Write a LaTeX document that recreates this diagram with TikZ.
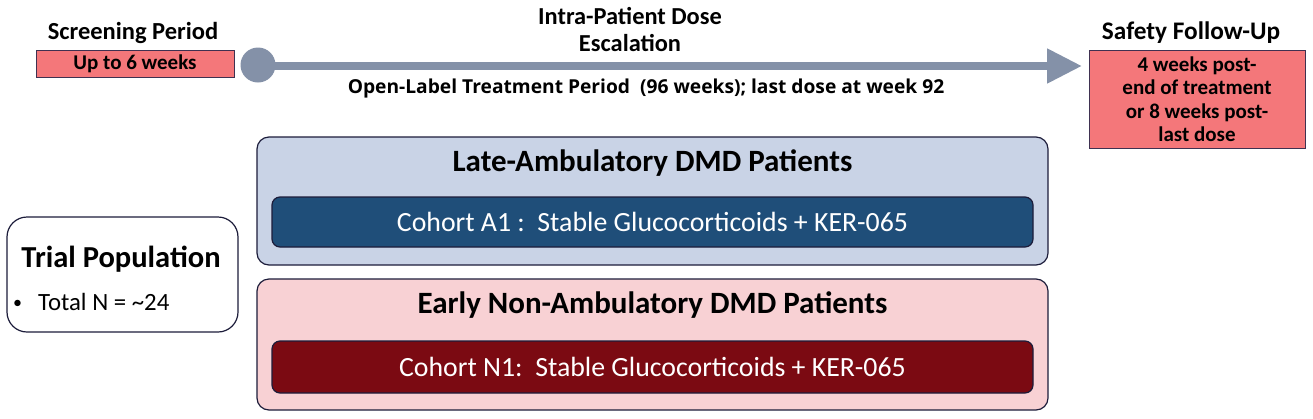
\documentclass[tikz,border=0pt]{standalone}
\usepackage{fontspec}
\setmainfont{Carlito}
\newfontfamily\segoe{Open Sans}
\usetikzlibrary{arrows.meta}
\definecolor{salmon}{HTML}{F4777A}
\definecolor{edgepurple}{HTML}{3F3151}
\definecolor{arrowgray}{HTML}{8491A8}
\definecolor{lightblue}{HTML}{C9D3E6}
\definecolor{darkblue}{HTML}{1F4E79}
\definecolor{lightpink}{HTML}{F8D1D4}
\definecolor{darkred}{HTML}{7B0A12}
\definecolor{navyedge}{HTML}{1C1C3A}
\tikzset{
  redbox/.style={draw=edgepurple, line width=0.8pt, fill=salmon, inner sep=0pt, font=\bfseries\fontsize{21}{24}\selectfont, align=center},
  heading/.style={font=\bfseries\fontsize{24.4}{27}\selectfont, align=center, inner sep=0pt},
  group/.style={draw=navyedge, line width=1.2pt, rounded corners=12pt, inner sep=0pt},
  cohort/.style={draw=navyedge, line width=1.2pt, rounded corners=8pt, inner sep=0pt, text=white, font=\fontsize{27.8}{31}\selectfont},
  grouptitle/.style={font=\bfseries\fontsize{31}{35}\selectfont, inner sep=0pt}
}
\begin{document}
\begin{tikzpicture}[x=1pt,y=-1pt]
\useasboundingbox (0,0) rectangle (1313,418);
% screening
\node[heading, font=\bfseries\fontsize{24.5}{28}\selectfont] (scrt) at (133,33) {Screening Period};
\node[redbox, minimum width=198pt, minimum height=27pt] (scr) at (135,63.5) {Up to 6 weeks};
% timeline
\node[circle, fill=arrowgray, minimum size=35pt, inner sep=0pt] (circ) at (258,65) {};
\coordinate (tip) at (1082,66);
\draw[arrowgray, line width=8pt, -{Triangle[length=35pt,width=33pt]}] (circ.center |- tip) -- (tip);
\node[heading] (intra) at (630,30) {Intra-Patient Dose\\Escalation};
\node[inner sep=0pt, font=\segoe\bfseries\fontsize{19.2}{22}\selectfont] (olt) at (646,89) {Open-Label Treatment Period\ \ (96 weeks); last dose at week 92};
% follow-up
\node[heading, font=\bfseries\fontsize{25.3}{28}\selectfont] (sft) at (1191,33) {Safety Follow-Up};
\node[redbox, minimum width=216pt, minimum height=98pt, font=\bfseries\fontsize{21}{23.5}\selectfont] (fu) at (1197,99) {4 weeks post-\\end of treatment\\or 8 weeks post-\\last dose};
% groups
\node[group, fill=lightblue, minimum width=791pt, minimum height=128pt] (late) at (652.5,201) {};
\node[grouptitle] (latet) at (652.5,163) {Late-Ambulatory DMD Patients};
\node[cohort, fill=darkblue, minimum width=761pt, minimum height=50pt] (a1) at (652.5,222) {Cohort A1 :\ \ Stable Glucocorticoids + KER-065};
\node[group, fill=lightpink, minimum width=791pt, minimum height=131pt] (early) at (652.5,344.5) {};
\node[grouptitle] (earlyt) at (652.5,305) {Early Non-Ambulatory DMD Patients};
\node[cohort, fill=darkred, minimum width=761pt, minimum height=52pt] (n1) at (652.5,367) {Cohort N1:\ \ Stable Glucocorticoids + KER-065};
% trial population
\node[draw=navyedge, line width=1.2pt, rounded corners=20pt, fill=white, minimum width=231pt, minimum height=115pt, inner sep=0pt] (trial) at (122.5,274.5) {};
\node[inner sep=0pt, font=\bfseries\fontsize{30.5}{34}\selectfont] (trialt) at (121,259) {Trial Population};
\node[inner sep=0pt, anchor=west, font=\fontsize{24.8}{28}\selectfont] (total) at (13,302) {\raisebox{2.5pt}{\fontsize{18}{20}\selectfont\textbullet}\hspace{16pt}Total N = \textasciitilde24};
\end{tikzpicture}
\end{document}
